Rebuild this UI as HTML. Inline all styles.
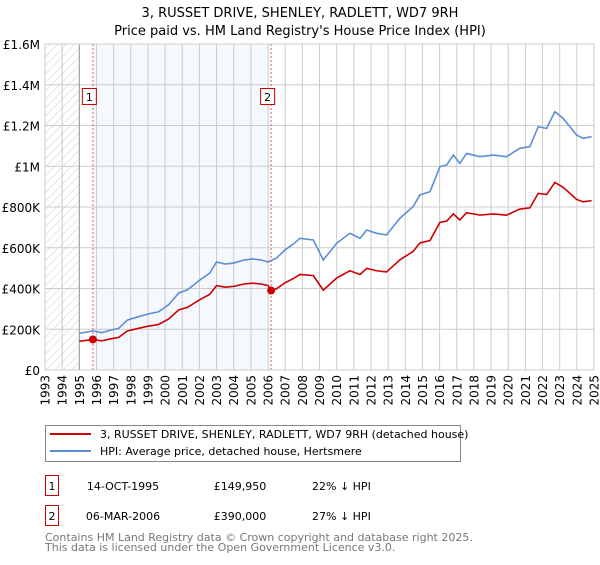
<!DOCTYPE html>
<html><head><meta charset="utf-8"><style>
body{margin:0;background:#fff;width:600px;height:560px;overflow:hidden}
svg text{font-family:"DejaVu Sans","Liberation Sans",sans-serif}
</style></head><body>
<svg id="chart" width="600" height="560" viewBox="0 0 600 560" xmlns="http://www.w3.org/2000/svg">
<defs><pattern id="hatch" width="6" height="6" patternUnits="userSpaceOnUse" patternTransform="rotate(45)"><line x1="0" y1="0" x2="0" y2="6" stroke="#ccc" stroke-width="1"/></pattern></defs>
<text x="300" y="17" text-anchor="middle" font-size="13">3, RUSSET DRIVE, SHENLEY, RADLETT, WD7 9RH</text>
<text x="300" y="35" text-anchor="middle" font-size="13">Price paid vs. HM Land Registry's House Price Index (HPI)</text>
<g id="grid"></g><g id="series"></g><g id="axes"></g>
<g>
<rect x="45.5" y="425.5" width="415" height="36" fill="#fff" stroke="#888"/>
<line x1="50" y1="434" x2="91" y2="434" stroke="#cc0000" stroke-width="2"/>
<text x="100" y="438" font-size="11">3, RUSSET DRIVE, SHENLEY, RADLETT, WD7 9RH (detached house)</text>
<line x1="50" y1="451" x2="91" y2="451" stroke="#5b8fd4" stroke-width="2"/>
<text x="100" y="455" font-size="11">HPI: Average price, detached house, Hertsmere</text>
</g>
<g font-size="11">
<rect x="45.5" y="475.5" width="13" height="20" fill="#fff" stroke="#cc0000"/>
<text x="52" y="490" text-anchor="middle">1</text>
<text x="123" y="490" text-anchor="middle">14-OCT-1995</text>
<text x="240" y="490" text-anchor="middle">£149,950</text>
<text x="312" y="490">22% ↓ HPI</text>
</g>
<g font-size="11">
<rect x="45.5" y="505.5" width="13" height="20" fill="#fff" stroke="#cc0000"/>
<text x="52" y="520" text-anchor="middle">2</text>
<text x="123" y="520" text-anchor="middle">06-MAR-2006</text>
<text x="240" y="520" text-anchor="middle">£390,000</text>
<text x="312" y="520">27% ↓ HPI</text>
</g>
<text x="45" y="541" font-size="11" fill="#777">Contains HM Land Registry data © Crown copyright and database right 2025.</text>
<text x="45" y="551" font-size="11" fill="#777">This data is licensed under the Open Government Licence v3.0.</text>
</svg>
<script>
const years=[1995.0,1995.8,1996.3,1996.8,1997.3,1997.8,1998.3,1999.0,1999.6,2000.2,2000.8,2001.3,2002.0,2002.6,2003.0,2003.5,2004.0,2004.6,2005.1,2005.6,2006.0,2006.5,2007.0,2007.5,2007.86,2008.64,2009.22,2010.0,2010.77,2011.36,2011.75,2012.33,2012.91,2013.69,2014.46,2014.85,2015.44,2016.02,2016.41,2016.8,2017.18,2017.57,2018.35,2019.12,2019.9,2020.68,2021.26,2021.75,2022.24,2022.72,2023.2,2023.6,2023.99,2024.37,2024.86];
const hpiK=[180,192,183,195,205,245,258,275,285,320,378,393,440,475,530,520,525,540,545,540,530,550,590,620,646,638,540,622,671,646,687,671,663,745,802,859,875,998,1006,1055,1014,1063,1047,1055,1047,1088,1096,1194,1186,1268,1235,1194,1153,1137,1145];
const saleYears=[1995.79,2006.18];
const salePrices=[149950,390000];
const saleLabels=["1","2"];
const yTicks=[0,200000,400000,600000,800000,1000000,1200000,1400000,1600000];
const yTickLabels=["£0","£200K","£400K","£600K","£800K","£1M","£1.2M","£1.4M","£1.6M"];
const xTicks=[1993,1994,1995,1996,1997,1998,1999,2000,2001,2002,2003,2004,2005,2006,2007,2008,2009,2010,2011,2012,2013,2014,2015,2016,2017,2018,2019,2020,2021,2022,2023,2024,2025];

const X0=45,X1=594,Y0=370,Y1=44;
const xs=y=>X0+(y-1993)/(2025-1993)*(X1-X0);
const ys=v=>Y0-v/1600000*(Y0-Y1);
const NS="http://www.w3.org/2000/svg";
function mk(tag,attrs,parent){const e=document.createElementNS(NS,tag);for(const k in attrs)e.setAttribute(k,attrs[k]);parent.appendChild(e);return e;}
const grid=document.getElementById('grid'),ser=document.getElementById('series'),ax=document.getElementById('axes');

let r=mk('rect',{x:xs(1993),y:Y1,width:xs(1995)-xs(1993),height:Y0-Y1,fill:'url(#hatch)'},grid);


r=mk('rect',{x:xs(saleYears[0]),y:Y1,width:xs(saleYears[1])-xs(saleYears[0]),height:Y0-Y1,fill:'#eef3fc',opacity:0.6},grid);


xTicks.forEach(t=>{const l=mk('line',{x1:xs(t),x2:xs(t),y1:Y1,y2:Y0,stroke:'#cccccc'},grid);


const px=xs(t)+4.5,py=Y0+5;
const tx=mk('text',{x:px,y:py,'text-anchor':'end','font-size':'12',transform:'rotate(-90 '+px+' '+py+')'},ax);tx.textContent=t;

});
yTicks.forEach((t,i)=>{const l=mk('line',{x1:X0,x2:X1,y1:ys(t),y2:ys(t),stroke:'#cccccc'},grid);


const tx=mk('text',{x:40,y:ys(t)+5,'text-anchor':'end','font-size':'12'},ax);tx.textContent=yTickLabels[i];

});
let b=mk('line',{x1:xs(1995),x2:xs(1995),y1:Y1,y2:Y0,stroke:'#999'},grid);



function hpiAt(y){for(let i=0;i<years.length-1;i++){if(y<=years[i+1]){const f=(y-years[i])/(years[i+1]-years[i]);return hpiK[i]+f*(hpiK[i+1]-hpiK[i]);}}return hpiK[hpiK.length-1];}
const r1=salePrices[0]/(hpiAt(saleYears[0])*1000),r2=salePrices[1]/(hpiAt(saleYears[1])*1000);
const bp=years.map((y,i)=>xs(y)+','+ys(hpiK[i]*1000)).join(' ');
let pl=mk('polyline',{points:bp,fill:'none',stroke:'#5b8fd4','stroke-width':1.6},ser);


const rp=[];years.forEach((y,i)=>{if(y>saleYears[1]&&(i==0||years[i-1]<=saleYears[1])){rp.push(xs(saleYears[1])+','+ys(salePrices[1]));}
rp.push(xs(y)+','+ys(hpiK[i]*1000*(y<saleYears[1]?r1:r2)));});
pl=mk('polyline',{points:rp.join(' '),fill:'none',stroke:'#cc0000','stroke-width':1.6},ser);


saleYears.forEach((y,i)=>{
const l=mk('line',{x1:xs(y),x2:xs(y),y1:Y1,y2:Y0,stroke:'#e06060','stroke-dasharray':'2,2'},ser);


const c=mk('circle',{cx:xs(y),cy:ys(salePrices[i]),r:4,fill:'#cc0000'},ser);


const bx=mk('rect',{x:xs(y)-10.5,y:88.5,width:14,height:16,fill:'#fff',stroke:'#cc0000'},ser);


const t=mk('text',{x:xs(y)-3.5,y:101,'text-anchor':'middle','font-size':'11'},ser);t.textContent=saleLabels[i];

});
let fr=mk('rect',{x:X0,y:Y1,width:X1-X0,height:Y0-Y1,fill:'none',stroke:'#cccccc'},ax);


</script>
</body></html>
